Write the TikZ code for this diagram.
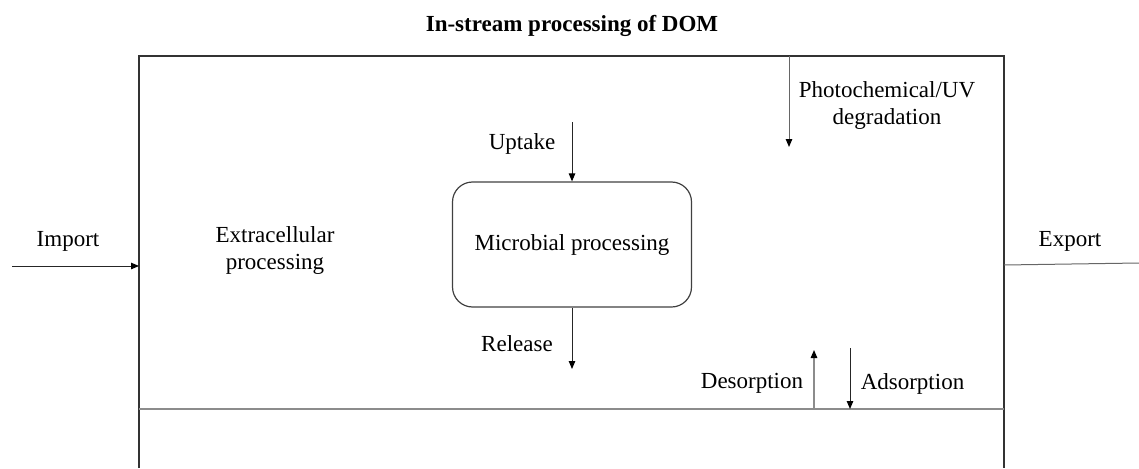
\documentclass[tikz,border=0pt]{standalone}
\usepackage{fontspec}
\setmainfont{Liberation Serif}
\usetikzlibrary{arrows.meta}
\begin{document}
\begin{tikzpicture}[x=1pt,y=-1pt,
  lbl/.style={font=\fontsize{23}{27}\selectfont, inner sep=0pt, align=center},
  ln/.style={line width=1pt, draw=black!85},
  lnlight/.style={line width=1.2pt, draw=black!45},
  tip/.style={-{Triangle[length=8pt,width=6.5pt,color=black,fill=black]}},
  arr/.style={ln, tip},
]
\useasboundingbox (0,0) rectangle (1139,468);
% title
\node[lbl, font=\bfseries\fontsize{23}{27}\selectfont] (title) at (572,26) {In-stream processing of DOM};
% outer box (open at bottom)
\coordinate (bl) at (139,468);
\coordinate (tl) at (139,56);
\coordinate (tr) at (1004,56);
\coordinate (br) at (1004,468);
\draw[ln, line width=1.5pt, draw=black!80] (bl) -- (tl) -- (tr) -- (br);
% sediment line
\coordinate (sl) at (139,409);
\coordinate (sr) at (1004,409);
\draw[lnlight] (sl) -- (sr);
% microbial box
\node[lbl, draw=black!75, line width=1.2pt, rounded corners=20pt, minimum width=239pt, minimum height=125pt] (mic) at (572,244.5) {Microbial processing};
% labels
\node[lbl] (import) at (68,241.5) {Import};
\node[lbl] (export) at (1070,241.5) {Export};
\node[lbl] (extra) at (275,251) {Extracellular\\processing};
\node[lbl] (uptake) at (522,143.5) {Uptake};
\node[lbl] (release) at (517,343.5) {Release};
\node[lbl] (photo) at (887,106) {Photochemical/UV\\degradation};
\node[lbl] (desorp) at (752,383.5) {Desorption};
\node[lbl] (adsorp) at (912.5,383.5) {Adsorption};
% import / export
\coordinate (impS) at (12,266);
\coordinate (impE) at (139,266);
\draw[arr] (impS) -- (impE);
\coordinate (expS) at (1004,265);
\coordinate (expE) at (1139,263);
\draw[lnlight, line width=1pt, draw=black!60] (expS) -- (expE);
% uptake / release
\coordinate (upS) at (572,122);
\draw[arr] (upS) -- (mic.north);
\coordinate (relE) at (572,369);
\draw[arr] (mic.south) -- (relE);
% photochemical
\coordinate (phS) at (789,56);
\coordinate (phE) at (789,147);
\draw[arr, draw=black!60] (phS) -- (phE);
% desorption / adsorption
\coordinate (deS) at (814,409);
\coordinate (deE) at (814,350);
\draw[lnlight, tip] (deS) -- (deE);
\coordinate (adS) at (850,348);
\coordinate (adE) at (850,409);
\draw[arr] (adS) -- (adE);
\end{tikzpicture}
\end{document}
